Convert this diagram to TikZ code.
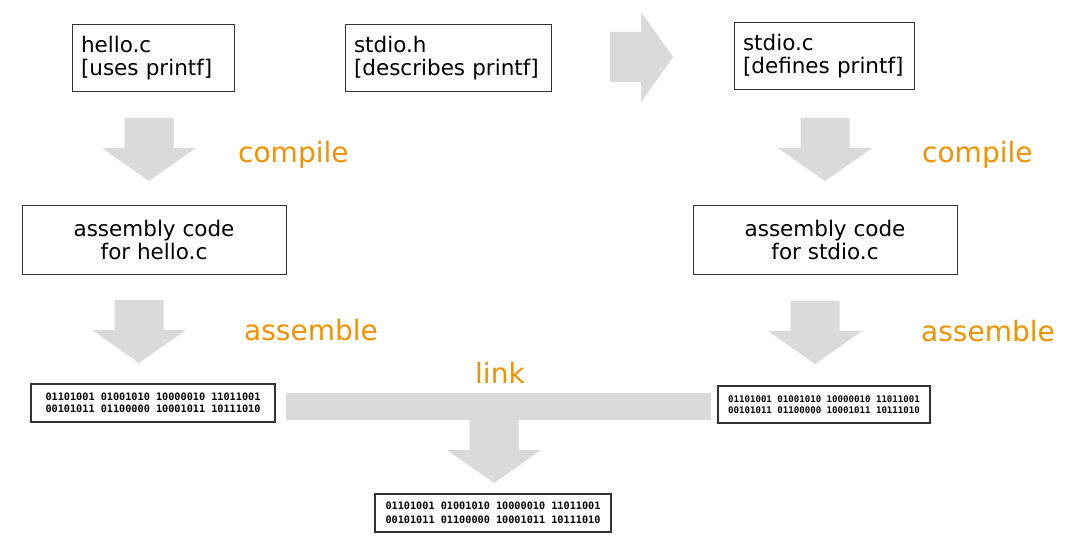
\documentclass[tikz,border=0pt]{standalone}
\usepackage{fontspec}
\setmainfont{DejaVu Sans}
\newfontfamily\binfont{DejaVu Sans Mono}
\definecolor{stepgray}{RGB}{218,218,218}
\definecolor{steporange}{RGB}{242,146,0}
\tikzset{
  srcbox/.style={draw=black!80, line width=1pt, align=left, inner xsep=9pt, minimum height=67pt, font=\fontsize{21.5}{23}\selectfont},
  asmbox/.style={draw=black!80, line width=1pt, align=center, minimum width=264pt, minimum height=68pt, font=\fontsize{21.5}{23.5}\selectfont},
  binbox/.style={draw=black!80, line width=1.3pt, align=left, inner sep=0pt, minimum height=38pt, font=\binfont\bfseries\fontsize{10.2}{12}\selectfont},
  steplabel/.style={text=steporange, anchor=base west, inner sep=0pt, font=\fontsize{28}{30}\selectfont},
  downblk/.pic={\fill[stepgray] (-24.5,0) -- (24.5,0) -- (24.5,30) -- (47,30) -- (0,63) -- (-47,30) -- (-24.5,30) -- cycle;}
}
\begin{document}
\begin{tikzpicture}[x=1pt, y=-1pt]
  \useasboundingbox (0,0) rectangle (1071,548);
  \fill[stepgray] (610,32) -- (641,32) -- (641,12) -- (673,57) -- (641,102) -- (641,82) -- (610,82) -- cycle;
  \pic at (149,118) {downblk};
  \pic at (139,300) {downblk};
  \pic at (825,118) {downblk};
  \pic at (815,301) {downblk};
  \fill[stepgray] (286,393) rectangle (711,420);
  \pic at (494,420) {downblk};
  \node[srcbox, text width=144pt] (helloc) at (153,58.5) {hello.c\\{[uses printf]}};
  \node[srcbox, text width=188pt] (stdioh) at (448,58.5) {stdio.h\\{[describes printf]}};
  \node[srcbox, text width=162pt] (stdioc) at (824,56) {stdio.c\\{[defines printf]}};
  \node[asmbox] (asmhello) at (154,240) {assembly code\\for hello.c};
  \node[asmbox] (asmstdio) at (825,240) {assembly code\\for stdio.c};
  \node[binbox, minimum width=244pt] (objhello) at (153,403) {01101001 01001010 10000010 11011001\\00101011 01100000 10001011 10111010};
  \node[binbox, minimum width=212pt, minimum height=37pt, font=\binfont\bfseries\fontsize{9.1}{11}\selectfont] (objstdio) at (824,404.5) {01101001 01001010 10000010 11011001\\00101011 01100000 10001011 10111010};
  \node[binbox, minimum width=236pt, font=\binfont\bfseries\fontsize{10.2}{14}\selectfont] (prog) at (493,513) {01101001 01001010 10000010 11011001\\00101011 01100000 10001011 10111010};
  \node[steplabel] (compA) at (238,163) {compile};
  \node[steplabel] (compB) at (922,163) {compile};
  \node[steplabel] (asmA) at (244,340) {assemble};
  \node[steplabel] (asmB) at (921,341) {assemble};
  \node[steplabel] (linklbl) at (475,383) {link};
\end{tikzpicture}
\end{document}
